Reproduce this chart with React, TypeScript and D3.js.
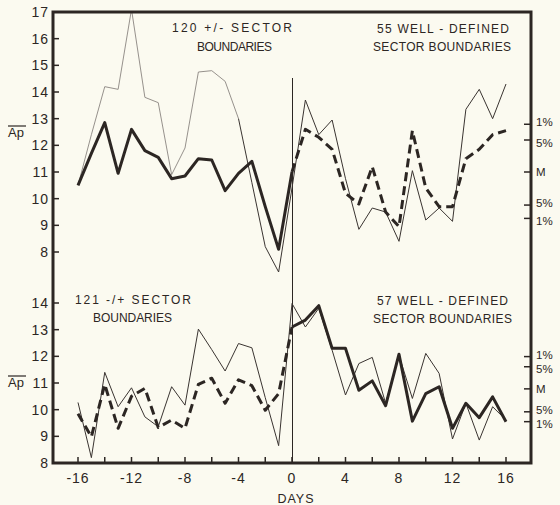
import React from "react";
import * as d3 from "d3";

// Day offsets from the sector boundary crossing
const days = [-16, -15, -14, -13, -12, -11, -10, -9, -8, -7, -6, -5, -4, -3, -2, -1, 0,
  1, 2, 3, 4, 5, 6, 7, 8, 9, 10, 11, 12, 13, 14, 15, 16];

// Upper panel: +/- boundaries
const ap120 = [10.5, 11.7, 12.85, 10.95, 12.6, 11.8, 11.55, 10.75, 10.85, 11.5, 11.45, 10.3, 10.95,
  11.4, 9.7, 8.1, 11.0, 12.6, 12.3, 11.85, 10.2, 9.8, 11.2, 9.5, 8.95, 12.55, 10.4, 9.7, 9.7,
  11.5, 11.85, 12.4, 12.55];
const ap55 = [10.5, 12.4, 14.2, 14.1, 17.1, 13.8, 13.6, 10.9, 11.9, 14.75, 14.8, 14.4, 13.0,
  10.6, 8.2, 7.25, 10.4, 13.7, 12.4, 12.95, 10.75, 8.85, 9.65, 9.5, 8.4, 11.05, 9.2, 9.65, 9.15,
  13.35, 14.1, 13.0, 14.3];

// Lower panel: -/+ boundaries
const ap121 = [9.85, 8.98, 10.95, 9.3, 10.5, 10.8, 9.33, 9.61, 9.3, 10.95, 11.18, 10.24, 11.12,
  10.9, 9.98, 10.6, 13.1, 13.36, 13.9, 12.3, 12.3, 10.73, 11.08, 10.15, 12.08, 9.57, 10.6, 10.86,
  9.3, 10.24, 9.7, 10.48, 9.55];
const ap57 = [10.27, 8.2, 11.4, 10.11, 10.82, 9.73, 9.36, 10.86, 10.17, 13.02, 12.25, 11.45, 12.48,
  12.32, 10.45, 8.65, 13.98, 13.1, 13.8, 12.23, 10.55, 11.73, 11.96, 10.24, 12.04, 10.42, 12.11,
  11.36, 8.9, 10.24, 8.86, 10.11, 9.61];

const topTicks = [8, 9, 10, 11, 12, 13, 14, 15, 16, 17];
const bottomTicks = [8, 9, 10, 11, 12, 13, 14];
const dayTicks = [-16, -14, -12, -10, -8, -6, -4, -2, 0, 2, 4, 6, 8, 10, 12, 14, 16];
const dayLabels = [-16, -12, -8, -4, 0, 4, 8, 12, 16];

// Significance levels (label, value) with the mean M in the middle
const sigLabels = ["1%", "5%", "M", "5%", "1%"];
const topSig = [12.79, 12.2, 11.0, 9.76, 9.26];
const bottomSig = [11.99, 11.61, 10.78, 9.92, 9.55];
// small vertical nudges so paired labels stay apart
const sigNudge = [-2, 2.5, 0, -2, 2.5];

const W = 560;
const H = 505;
const frame = { left: 53, right: 531, top: 12, bottom: 463 };

const ink = "#2c2623";
const paper = "#fbfaf0";
const font = "'Liberation Sans', Arial, sans-serif";

type Pt = { day: number; v: number };

export default function App() {
  const x = d3.scaleLinear().domain([-16, 16]).range([78, 506]);
  const yTop = d3.scaleLinear().domain([8, 17]).range([252, 12]);
  const yBot = d3.scaleLinear().domain([8, 14]).range([463, 303]);

  const pts = (vals: number[]): Pt[] => days.map((d, i) => ({ day: d, v: vals[i] }));
  const pathFor = (y: d3.ScaleLinear<number, number>, data: Pt[]) =>
    d3.line<Pt>().x((d) => x(d.day)).y((d) => y(d.v))(data) || "";

  const top120 = pts(ap120);
  const top55 = pts(ap55);
  const bot121 = pts(ap121);
  const bot57 = pts(ap57);

  const before = (a: Pt[]) => a.filter((p) => p.day <= 0);
  const after = (a: Pt[]) => a.filter((p) => p.day >= 0);
  const early = (a: Pt[]) => a.filter((p) => p.day <= -4);
  const late = (a: Pt[]) => a.filter((p) => p.day >= -4);

  const labelStyle = { fontFamily: font, fill: ink, letterSpacing: "1px" } as const;

  const sigGroup = (y: d3.ScaleLinear<number, number>, vals: number[], key: string) =>
    vals.map((v, i) => (
      <g key={key + i}>
        <line x1={frame.right - 7} x2={frame.right} y1={y(v)} y2={y(v)} stroke={ink} strokeWidth={1.5} />
        <text
          x={536}
          y={y(v) + sigNudge[i]}
          dy="0.36em"
          fontSize={11.5}
          fontFamily={font}
          fill={ink}
        >
          {sigLabels[i]}
        </text>
      </g>
    ));

  return (
    <svg
      width={W}
      height={H}
      style={{ position: "absolute", left: 0, top: 0, display: "block", background: paper }}
    >
      <defs>
        <clipPath id="plotClip">
          <rect x={frame.left} y={frame.top} width={frame.right - frame.left} height={frame.bottom - frame.top} />
        </clipPath>
      </defs>
      <rect x={0} y={0} width={W} height={H} fill={paper} />

      {/* zero-day reference line */}
      <line x1={x(0) + 0.5} x2={x(0) + 0.5} y1={78} y2={frame.bottom} stroke={ink} strokeWidth={1} />

      <g clipPath="url(#plotClip)" fill="none" strokeLinejoin="round">
        {/* upper panel */}
        <path d={pathFor(yTop, early(top55))} stroke="#8a8580" strokeWidth={0.9} />
        <path d={pathFor(yTop, late(top55))} stroke="#3a3431" strokeWidth={1} />
        <path d={pathFor(yTop, before(top120))} stroke={ink} strokeWidth={3} />
        <path d={pathFor(yTop, after(top120))} stroke={ink} strokeWidth={3} strokeDasharray="9 5" />

        {/* lower panel */}
        <path d={pathFor(yBot, bot57)} stroke="#3a3431" strokeWidth={1} />
        <path d={pathFor(yBot, before(bot121))} stroke={ink} strokeWidth={3} strokeDasharray="9 5" />
        <path d={pathFor(yBot, after(bot121))} stroke={ink} strokeWidth={3} />
      </g>

      {/* frame */}
      <rect
        x={frame.left}
        y={frame.top}
        width={frame.right - frame.left}
        height={frame.bottom - frame.top}
        fill="none"
        stroke={ink}
        strokeWidth={3}
      />

      {/* left axis ticks, upper panel */}
      {topTicks.map((t) => (
        <g key={"tt" + t}>
          <line x1={frame.left} x2={frame.left + 6} y1={yTop(t)} y2={yTop(t)} stroke={ink} strokeWidth={1.5} />
          <text x={49} y={yTop(t)} dy="0.36em" textAnchor="end" fontSize={14} {...labelStyle}>
            {t}
          </text>
        </g>
      ))}

      {/* left axis ticks, lower panel */}
      {bottomTicks.map((t) => (
        <g key={"bt" + t}>
          <line x1={frame.left} x2={frame.left + 6} y1={yBot(t)} y2={yBot(t)} stroke={ink} strokeWidth={1.5} />
          <text x={49} y={yBot(t)} dy="0.36em" textAnchor="end" fontSize={14} {...labelStyle}>
            {t}
          </text>
        </g>
      ))}

      {/* day ticks */}
      {dayTicks.map((d) => (
        <line key={"dt" + d} x1={x(d)} x2={x(d)} y1={frame.bottom} y2={frame.bottom - 6} stroke={ink} strokeWidth={1.5} />
      ))}
      {dayLabels.map((d) => (
        <text key={"dl" + d} x={x(d)} y={483} textAnchor="middle" fontSize={14} {...labelStyle}>
          {d}
        </text>
      ))}
      <text x={296} y={503} textAnchor="middle" fontSize={12.5} {...labelStyle}>
        DAYS
      </text>

      {/* significance markers */}
      {sigGroup(yTop, topSig, "ts")}
      {sigGroup(yBot, bottomSig, "bs")}

      {/* Ap axis labels with overbar */}
      {[133, 383].map((yy, i) => (
        <g key={"ap" + i}>
          <text x={8} y={yy + 4} fontSize={13} fontFamily={font} fill={ink}>
            Ap
          </text>
          <line x1={8} x2={26} y1={yy - 7} y2={yy - 7} stroke={ink} strokeWidth={1.2} />
        </g>
      ))}

      {/* panel annotations */}
      <g fontSize={12} {...labelStyle}>
        <text x={172} y={32} textLength={121} lengthAdjust="spacing">120  +/-  SECTOR</text>
        <text x={197} y={51} textLength={76} lengthAdjust="spacing">BOUNDARIES</text>
        <text x={377} y={33} textLength={133} lengthAdjust="spacing">55 WELL - DEFINED</text>
        <text x={373} y={51} textLength={139} lengthAdjust="spacing">SECTOR BOUNDARIES</text>
        <text x={75} y={304} textLength={117} lengthAdjust="spacing">121 -/+ SECTOR</text>
        <text x={93} y={322} textLength={80} lengthAdjust="spacing">BOUNDARIES</text>
        <text x={377} y={305} textLength={132} lengthAdjust="spacing">57 WELL - DEFINED</text>
        <text x={373} y={323} textLength={140} lengthAdjust="spacing">SECTOR BOUNDARIES</text>
      </g>
    </svg>
  );
}
